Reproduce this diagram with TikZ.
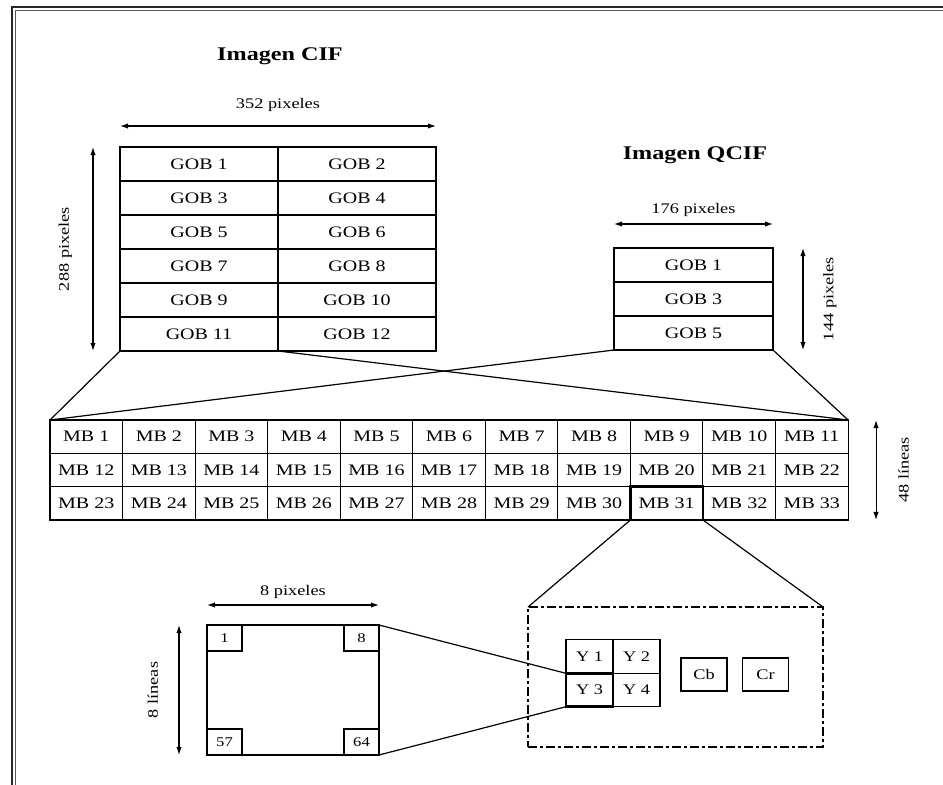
\documentclass[tikz,border=0pt]{standalone}
\usepackage{fontspec}
\setmainfont[FakeStretch=1.25]{Liberation Serif}
\usetikzlibrary{arrows.meta,positioning}

\begin{document}
\begin{tikzpicture}[
  x=0.75pt, y=-0.75pt,
  font=\fontsize{11}{13}\selectfont, >={Latex[length=6pt,width=4pt]},
  cell/.style={draw, line width=0.8pt, inner sep=0pt, outer sep=0pt, font=\fontsize{12}{14}\selectfont},
  gob/.style={cell, minimum width=118.5pt, minimum height=25.5pt},
  mb/.style={cell, minimum width=54.4pt, minimum height=25pt},
  ycell/.style={cell, minimum width=35.25pt, minimum height=25pt, font=\fontsize{11}{13}\selectfont},
  pel/.style={cell, minimum width=26.25pt, minimum height=19.5pt, font=\fontsize{10}{12}\selectfont},
  sel/.style={line width=1.8pt},
  dim/.style={<->, line width=0.8pt},
  zl/.style={line width=0.9pt},
  ttl/.style={font=\fontsize{14.5}{17}\selectfont\bfseries},
  frm/.style={draw=black!85},
]
\useasboundingbox (0,0) rectangle (943,785);
% page frame
\draw[frm, line width=1.5pt] (11.5,785) -- (11.5,6.5) -- (943,6.5);
\draw[frm, draw=black!65, line width=1pt] (15.5,785) -- (15.5,10.5) -- (943,10.5);

% CIF picture
\node[ttl] (cif-title) at (280,56) {Imagen CIF};
\foreach \r in {1,...,6} \foreach \c in {1,2} {
  \pgfmathtruncatemacro\idx{2*(\r-1)+\c}
  \node[gob] (cif-\idx) at ({199+158*(\c-1)}, {164+34*(\r-1)}) {GOB \idx};
}
\draw[sel] (cif-11.south west) rectangle (cif-11.north east);
\draw[dim] ([yshift=15.75pt]cif-1.north west) -- node[above=7pt]{352 pixeles} ([yshift=15.75pt]cif-2.north east);
\draw[dim] ([xshift=-20.25pt]cif-11.south west) -- node[sloped, above=12pt]{288 pixeles} ([xshift=-20.25pt]cif-1.north west);

% QCIF picture
\node[ttl] (qcif-title) at (695,155) {Imagen QCIF};
\foreach \r/\g in {1/1,2/3,3/5}
  \node[gob, minimum width=119.25pt] (qcif-\g) at (693.5, {265+34*(\r-1)}) {GOB \g};
\draw[sel] (qcif-5.south west) rectangle (qcif-5.north east);
\draw[dim] ([yshift=18pt]qcif-1.north west) -- node[above=2pt]{176 pixeles} ([yshift=18pt]qcif-1.north east);
\draw[dim] ([xshift=22.5pt]qcif-5.south east) -- node[sloped, below=11.5pt]{144 pixeles} ([xshift=22.5pt]qcif-1.north east);

% GOB -> macroblocks
\foreach \r in {1,2,3} \foreach \c in {1,...,11} {
  \pgfmathtruncatemacro\idx{11*(\r-1)+\c}
  \node[mb] (mb-\idx) at ({50+72.55*(\c-0.5)}, {420+33.33*(\r-0.5)}) {MB \idx};
}
\draw[sel] (mb-31.south west) rectangle (mb-31.north east);
\draw[dim] ([xshift=21pt]mb-33.south east) -- node[sloped, below=13pt]{48 líneas} ([xshift=21pt]mb-11.north east);
\draw[zl] (cif-11.south west) -- (mb-1.north west);
\draw[zl] (cif-11.south east) -- (mb-11.north east);
\draw[zl] (qcif-5.south west) -- (mb-1.north west);
\draw[zl] (qcif-5.south east) -- (mb-11.north east);

% macroblock -> blocks
\node[draw, dash pattern={on 7pt off 2pt on 2.5pt off 2pt}, line width=1.2pt, minimum width=221.25pt, minimum height=105pt, outer sep=0pt] (mbz) at (675.5,677) {};
\draw[zl] (mb-31.south west) -- (mbz.north west);
\draw[zl] (mb-31.south east) -- (mbz.north east);
\foreach \i/\x/\y in {1/589.5/656.5, 2/636.5/656.5, 3/589.5/690, 4/636.5/690}
  \node[ycell] (y-\i) at (\x,\y) {Y \i};
\draw[sel] (y-3.south west) rectangle (y-3.north east);
\node[ycell, minimum width=34.5pt, minimum height=24.75pt] (cb) at (704,674.5) {Cb};
\node[ycell, minimum width=34.5pt, minimum height=24.75pt] (cr) at (765.5,674.5) {Cr};

% 8x8 block
\node[cell, minimum width=129pt, minimum height=97.5pt] (blk) at (293,690) {};
\node[pel, anchor=north west] (p-1) at (blk.north west) {1};
\node[pel, anchor=north east] (p-8) at (blk.north east) {8};
\node[pel, anchor=south west] (p-57) at (blk.south west) {57};
\node[pel, anchor=south east] (p-64) at (blk.south east) {64};
\draw[dim] ([yshift=15pt]blk.north west) -- node[above=1pt]{8 pixeles} ([yshift=15pt]blk.north east);
\draw[dim] ([xshift=-21pt]blk.south west) -- node[sloped, above=12pt]{8 líneas} ([xshift=-21pt]blk.north west);
\draw[zl] (blk.north east) -- (y-3.north west);
\draw[zl] (blk.south east) -- (y-3.south west);
\end{tikzpicture}
\end{document}
